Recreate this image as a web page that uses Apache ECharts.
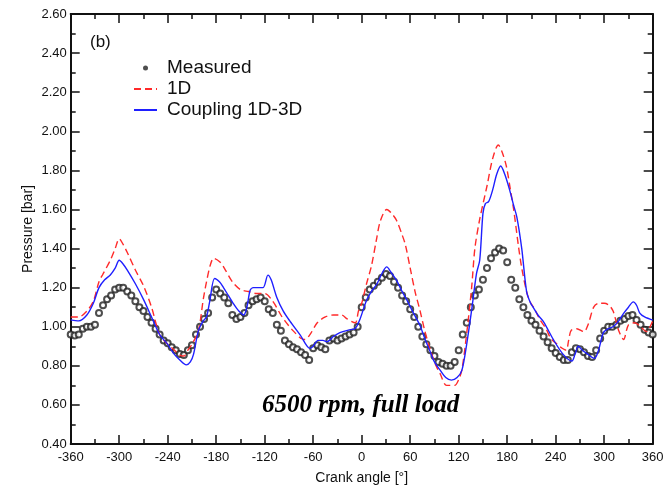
<!DOCTYPE html>
<html>
<head>
<meta charset="utf-8">
<script src="https://cdn.jsdelivr.net/npm/echarts@6/dist/echarts.min.js"></script>
<style>
html,body{margin:0;padding:0;background:#fff;}
#chart{width:667px;height:487px;}
</style>
</head>
<body>
<div id="chart"></div>
<script>
// ---- Data ----
const measuredAngles = [];
for (let a = -360; a <= 360; a += 5) measuredAngles.push(a);
const measuredValues = [
0.96,0.955,0.96,0.99,1.00,1.00,1.01,1.07,1.11,1.14,1.16,1.19,1.20,1.20,1.18,1.16,1.13,1.10,1.08,1.05,
1.02,0.99,0.96,0.93,0.915,0.895,0.88,0.86,0.855,0.88,0.905,0.96,1.00,1.04,1.07,1.15,1.19,1.17,1.15,1.12,
1.06,1.04,1.05,1.07,1.11,1.13,1.14,1.15,1.13,1.09,1.07,1.01,0.98,0.93,0.91,0.895,0.885,0.87,0.855,0.83,
0.89,0.905,0.895,0.885,0.93,0.94,0.93,0.94,0.95,0.96,0.97,1.00,1.10,1.15,1.19,1.21,1.23,1.25,1.27,1.26,
1.23,1.20,1.16,1.13,1.09,1.05,1.00,0.95,0.91,0.88,0.85,0.82,0.81,0.80,0.80,0.82,0.88,0.96,1.02,1.10,
1.16,1.19,1.24,1.30,1.35,1.38,1.40,1.39,1.33,1.24,1.20,1.14,1.10,1.06,1.03,1.01,0.98,0.95,0.92,0.89,
0.865,0.845,0.83,0.83,0.87,0.89,0.885,0.87,0.85,0.845,0.88,0.94,0.98,1.00,1.00,1.01,1.03,1.04,1.055,1.06,
1.035,1.01,0.985,0.97,0.96
];

const oneDAngles = [-360,-350,-340,-332,-325,-320,-311,-305,-300,-295,-290,-280,-270,-260,-250,-240,-233,-225,-220,-215,
-210,-202,-196,-192,-187,-183,-175,-170,-160,-150,-140,-130,-120,-110,-100,-95,-85,-75,-70,-64,
-55,-45,-35,-25,-18,-8,-4,0,6,12,18,23,31,37,43,50,54,60,66,72,
78,85,92,97,105,115,120,124,130,136,140,146,155,162,169,174,179,184,188,194,
198,204,208,214,220,228,234,242,248,253,256,259,266,275,280,287,293,300,306,311,
318,324,330,338,345,352,360];
const oneDValues = [1.05,1.05,1.08,1.13,1.23,1.27,1.34,1.40,1.45,1.42,1.38,1.29,1.21,1.10,0.96,0.91,0.885,0.855,0.85,0.88,
0.91,0.98,1.14,1.23,1.32,1.35,1.33,1.30,1.23,1.19,1.18,1.17,1.17,1.13,1.06,1.03,0.98,0.94,0.935,0.96,
1.02,1.05,1.06,1.06,1.04,1.02,1.08,1.12,1.22,1.31,1.44,1.54,1.60,1.58,1.545,1.47,1.42,1.30,1.18,1.085,
0.98,0.88,0.80,0.76,0.70,0.70,0.73,0.78,0.97,1.20,1.40,1.55,1.72,1.86,1.93,1.89,1.82,1.70,1.60,1.41,
1.30,1.18,1.13,1.09,1.04,0.99,0.94,0.91,0.89,0.88,0.93,0.98,0.99,0.975,1.01,1.10,1.12,1.12,1.11,1.08,
0.98,0.935,1.01,1.02,1.00,0.975,1.03];

const couplingAngles = [-360,-350,-340,-332,-325,-318,-311,-305,-300,-295,-290,-280,-270,-260,-250,-240,-233,-225,-217,-212,
-208,-202,-196,-192,-188,-182,-176,-171,-165,-159,-152,-146,-142,-138,-134,-130,-122,-116,-112,-105,
-97,-89,-76,-64,-60,-54,-48,-43,-35,-27,-14,-8,-2,6,12,19,26,31,36,43,
50,56,64,72,78,84,90,97,104,111,118,124,130,136,142,146,150,153,157,162,
167,172,177,183,188,192,198,204,209,212,218,225,237,249,260,264,268,273,278,288,
293,299,305,311,318,324,330,336,340,344,350,360];
const couplingValues = [1.035,1.03,1.06,1.12,1.20,1.24,1.265,1.30,1.34,1.32,1.29,1.22,1.14,1.05,0.96,0.91,0.865,0.83,0.805,0.82,
0.86,0.98,1.03,1.05,1.13,1.247,1.23,1.20,1.16,1.12,1.08,1.06,1.10,1.187,1.20,1.20,1.20,1.264,1.24,1.15,
1.08,1.03,0.957,0.889,0.90,0.93,0.93,0.923,0.95,0.97,0.985,0.991,1.04,1.136,1.18,1.22,1.28,1.306,1.28,1.238,
1.18,1.136,1.07,1.008,0.94,0.88,0.82,0.778,0.74,0.727,0.74,0.778,0.914,1.085,1.272,1.34,1.58,1.63,1.64,1.70,
1.78,1.822,1.78,1.70,1.62,1.56,1.40,1.18,1.12,1.10,1.06,1.025,0.935,0.86,0.825,0.86,0.90,0.88,0.865,0.838,
0.88,0.97,0.99,1.00,1.03,1.068,1.10,1.127,1.11,1.07,1.05,1.034];

const xTicks = [-360,-300,-240,-180,-120,-60,0,60,120,180,240,300,360];
const yTicks = [0.40,0.60,0.80,1.00,1.20,1.40,1.60,1.80,2.00,2.20,2.40,2.60];

const zip = (xs, ys) => xs.map((x, i) => [x, ys[i]]);

const chart = echarts.init(document.getElementById('chart'), null, {renderer: 'canvas'});
const FONT = 'Liberation Sans, Arial, sans-serif';
const axisCommon = {
  axisLine: {show: true, onZero: false, lineStyle: {color: '#111', width: 2}},
  axisTick: {show: true, inside: true, length: 9, lineStyle: {color: '#111', width: 1.5}},
  minorTick: {show: true, splitNumber: 2, length: 5, lineStyle: {color: '#111', width: 1.5}},
  splitLine: {show: false},
  minorSplitLine: {show: false}
};

chart.setOption({
  animation: false,
  backgroundColor: '#fff',
  grid: {left: 70.7, right: 14.3, top: 14, bottom: 43, containLabel: false, outerBoundsMode: 'none'},
  legend: {
    orient: 'vertical',
    left: 128, top: 53,
    itemWidth: 23, itemHeight: 5,
    itemGap: 1,
    textStyle: {fontFamily: FONT, fontSize: 19, color: '#111', lineHeight: 20, padding: [0, 0, 0, 5]},
    data: [
      {name: 'Measured', icon: 'circle', itemStyle: {color: '#222', borderWidth: 0}},
      {name: '1D', itemStyle: {opacity: 0}},
      {name: 'Coupling 1D-3D', itemStyle: {opacity: 0}}
    ]
  },
  xAxis: [
    Object.assign({
      type: 'value', min: xTicks[0], max: xTicks[xTicks.length - 1], interval: 60, position: 'bottom',
      name: 'Crank angle [°]', nameLocation: 'middle', nameGap: 27,
      nameTextStyle: {fontFamily: FONT, fontSize: 14, color: '#111'},
      axisLabel: {fontFamily: FONT, fontSize: 13, color: '#111', margin: 7}
    }, axisCommon),
    Object.assign({
      type: 'value', min: xTicks[0], max: xTicks[xTicks.length - 1], interval: 60, position: 'top',
      axisLabel: {show: false}
    }, axisCommon)
  ],
  yAxis: [
    Object.assign({
      type: 'value', min: yTicks[0], max: yTicks[yTicks.length - 1], interval: 0.2, position: 'left',
      name: 'Pressure [bar]', nameLocation: 'middle', nameGap: 36, nameRotate: 90,
      nameMoveOverlap: false,
      nameTextStyle: {fontFamily: FONT, fontSize: 14, color: '#111'},
      axisLabel: {fontFamily: FONT, fontSize: 13, color: '#111', margin: 4,
        formatter: v => v.toFixed(2)}
    }, axisCommon),
    Object.assign({
      type: 'value', min: yTicks[0], max: yTicks[yTicks.length - 1], interval: 0.2, position: 'right',
      axisLabel: {show: false}
    }, axisCommon)
  ],
  series: [
    {
      name: 'Measured', type: 'scatter',
      data: zip(measuredAngles, measuredValues),
      symbol: 'emptyCircle', symbolSize: 6,
      itemStyle: {color: '#222', borderWidth: 1.4}
    },
    {
      name: '1D', type: 'line',
      data: zip(oneDAngles, oneDValues),
      showSymbol: false, symbol: 'none', smooth: 0.3,
      lineStyle: {color: '#ff2a2a', width: 1.4, type: [7, 4]},
      itemStyle: {color: '#ff2a2a'}
    },
    {
      name: 'Coupling 1D-3D', type: 'line',
      data: zip(couplingAngles, couplingValues),
      showSymbol: false, symbol: 'none', smooth: 0.3,
      lineStyle: {color: '#1f1fff', width: 1.4},
      itemStyle: {color: '#1f1fff'}
    }
  ],
  graphic: [
    {type: 'text', left: 90, top: 34,
     style: {text: '(b)', fontFamily: FONT, fontSize: 17, fill: '#111'}},
    {type: 'text', left: 262, top: 393,
     style: {text: '6500 rpm, full load', fontFamily: 'Liberation Serif, Times New Roman, serif',
       fontSize: 25, fontWeight: 'bold', fontStyle: 'italic', fill: '#000'}}
  ]
});
</script>
</body>
</html>
